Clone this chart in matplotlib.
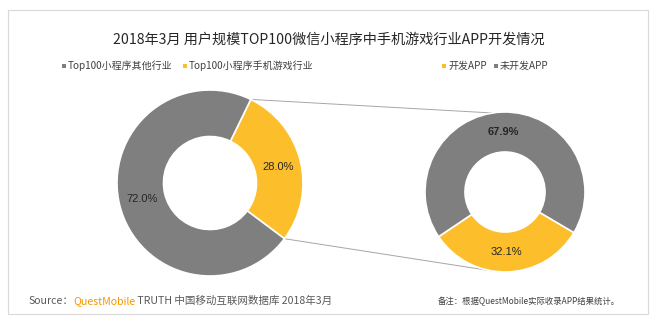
import matplotlib
matplotlib.use("Agg")
import matplotlib.pyplot as plt
from matplotlib.patches import Rectangle, ConnectionPatch
import numpy as np

plt.rcParams['font.family'] = ['Noto Sans CJK SC', 'DejaVu Sans']

GRAY = "#7F7F7F"
GOLD = "#FCBF2B"
TEXT = "#404040"

TITLE = "2018年3月 用户规模TOP100微信小程序中手机游戏行业APP开发情况"

# left donut: share of the top-100 mini programs
left_labels = ["Top100小程序手机游戏行业", "Top100小程序其他行业"]
left_values = [28.0, 72.0]
left_colors = [GOLD, GRAY]

# right donut: mobile game mini programs with / without an app
right_labels = ["开发APP", "未开发APP"]
right_values = [32.1, 67.9]
right_colors = [GOLD, GRAY]

W, H = 656, 325
fig = plt.figure(figsize=(W / 100, H / 100), dpi=100)
fig.patch.set_facecolor("white")


def px_axes(cx, cy, r):
    # axes square around a centre given in pixels (top-left origin)
    return fig.add_axes([(cx - r) / W, (H - cy - r) / H, 2 * r / W, 2 * r / H])


def donut(ax, values, colors, start, bold_idx=None):
    wedges, texts = ax.pie(values, colors=colors, startangle=start, counterclock=False,
                           radius=1, wedgeprops=dict(width=0.5, edgecolor="white", linewidth=1.2))
    total = sum(values)
    for i, w in enumerate(wedges):
        mid = np.deg2rad((w.theta1 + w.theta2) / 2)
        ax.text(0.75 * np.cos(mid), 0.75 * np.sin(mid), f"{values[i] / total * 100:.1f}%",
                ha="center", va="center", fontsize=8, color="#262626",
                family=["Liberation Sans", "DejaVu Sans"],
                fontweight="bold" if i == bold_idx else "normal")
    ax.set_xlim(-1, 1)
    ax.set_ylim(-1, 1)
    ax.set_aspect("equal")
    ax.axis("off")
    return wedges


axL = px_axes(210, 183, 93)
wl = donut(axL, left_values, left_colors, 64)
axR = px_axes(505, 192, 80)
wr = donut(axR, right_values, right_colors, -30.5, bold_idx=1)

# zoom lines from the game slice to the right donut
g = wl[0]
for ang, tgt in [(g.theta2, 99), (g.theta1, 261)]:
    a = np.deg2rad(ang)
    b = np.deg2rad(tgt)
    con = ConnectionPatch(xyA=(np.cos(a), np.sin(a)), coordsA=axL.transData,
                          xyB=(np.cos(b), np.sin(b)), coordsB=axR.transData,
                          color="#A6A6A6", linewidth=0.7, zorder=0)
    fig.add_artist(con)

# outer frame
fig.add_artist(Rectangle((8 / W, (H - 314) / H), 640 / W, 304 / H, transform=fig.transFigure,
                         fill=False, edgecolor="#D9D9D9", linewidth=0.8))

fig.text(329 / W, 1 - 40 / H, TITLE, ha="center", va="center", fontsize=10.2, color="#262626")


def legend_row(x, y, items, gap):
    for label, color in items:
        fig.add_artist(Rectangle((x / W, 1 - (y + 2) / H), 4 / W, 4 / H,
                                 transform=fig.transFigure, color=color, linewidth=0))
        fig.text((x + 6) / W, 1 - y / H, label, ha="left", va="center", fontsize=7.2, color=TEXT)
        x += gap.pop(0)


legend_row(62, 66, [(left_labels[1], GRAY), (left_labels[0], GOLD)], [121, 0])
legend_row(442, 66, [(right_labels[0], GOLD), (right_labels[1], GRAY)], [52, 0])

# source line, pieced together so the brand name can be orange
fig.canvas.draw()
r = fig.canvas.get_renderer()
x = 28
for part, col in [("Source：", "#595959"), ("QuestMobile", "#F39800"),
                  (" TRUTH 中国移动互联网数据库 2018年3月", "#595959")]:
    t = fig.text(x / W, 1 - 301 / H, part, ha="left", va="center", fontsize=7.6, color=col)
    x += t.get_window_extent(r).width
fig.text(620 / W, 1 - 301 / H, "备注：根据QuestMobile实际收录APP结果统计。",
         ha="right", va="center", fontsize=6, color="#404040")

fig.savefig("out.png", dpi=100, facecolor="white")
